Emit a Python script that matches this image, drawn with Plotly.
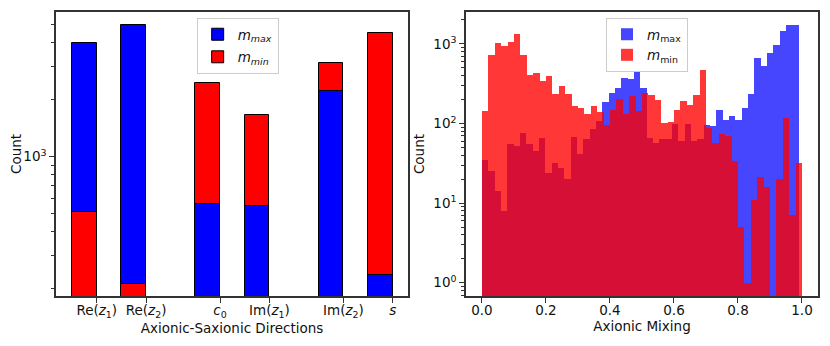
import numpy as np
import plotly.graph_objects as go

# left panel: counts per axionic/saxionic direction
directions = ["Re(<i>z</i><sub>1</sub>)", "Re(<i>z</i><sub>2</sub>)", "<i>c</i><sub>0</sub>",
              "Im(<i>z</i><sub>1</sub>)", "Im(<i>z</i><sub>2</sub>)", "<i>s</i>"]
direction_pos = [0, 1, 2.5, 3.5, 5, 6]
dir_max = [3980, 4980, 565, 550, 2230, 236]
dir_min = [510, 213, 2460, 1660, 3140, 4530]

# right panel: histogram counts of the axionic mixing (50 bins each)
mix_max_range = (0.0, 0.99)
mix_min_range = (0.0, 1.0)
mix_max = [35, 25, 14, 8, 55, 52, 75, 55, 45, 65,
           24, 32, 28, 20, 67, 41, 63, 86, 107, 185,
           244, 280, 375, 366, 447, 283, 66, 57, 63, 63,
           100, 60, 100, 60, 63, 95, 93, 146, 112, 126,
           110, 157, 237, 666, 524, 770, 980, 1440, 1750, 1750]
mix_min = [143, 720, 1030, 934, 1060, 1336, 720, 408, 436, 345,
           400, 238, 294, 236, 168, 157, 130, 165, 140, 97,
           146, 201, 133, 222, 144, 244, 230, 200, 102, 104,
           146, 190, 169, 228, 465, 88, 57, 73, 70, 34,
           5, 1, 11, 21, 16, 0, 20, 118, 7, 32]

BLUE = "blue"
RED = "red"
FONT = dict(family="DejaVu Sans", size=13.5, color="#111")

fig = go.Figure()

# larger bar of each pair drawn first, smaller one on top
def pick(vals, other, larger):
    out = []
    for v, o in zip(vals, other):
        keep = (v >= o) if larger else (v < o)
        out.append(v if keep else None)
    return out

bar_style = dict(width=0.5, offset=-0.5, marker_line=dict(color="black", width=1),
                 xaxis="x", yaxis="y", legend="legend")
fig.add_trace(go.Bar(x=direction_pos, y=pick(dir_max, dir_min, True), marker_color=BLUE,
                     name="<i>m</i><sub><i>max</i></sub>", legendgroup="a", **bar_style))
fig.add_trace(go.Bar(x=direction_pos, y=pick(dir_min, dir_max, True), marker_color=RED,
                     name="<i>m</i><sub><i>min</i></sub>", legendgroup="b", **bar_style))
fig.add_trace(go.Bar(x=direction_pos, y=pick(dir_max, dir_min, False), marker_color=BLUE,
                     showlegend=False, legendgroup="a", **bar_style))
fig.add_trace(go.Bar(x=direction_pos, y=pick(dir_min, dir_max, False), marker_color=RED,
                     showlegend=False, legendgroup="b", **bar_style))

# histograms
def centers(rng, n):
    edges = np.linspace(rng[0], rng[1], n + 1)
    return (edges[:-1] + edges[1:]) / 2, edges[1] - edges[0]

cx, wx = centers(mix_max_range, len(mix_max))
cn, wn = centers(mix_min_range, len(mix_min))
fig.add_trace(go.Bar(x=cx, y=mix_max, width=wx, marker_color=BLUE, opacity=0.72,
                     marker_line_width=0, name="<i>m</i><sub>max</sub>",
                     xaxis="x2", yaxis="y2", legend="legend2"))
fig.add_trace(go.Bar(x=cn, y=mix_min, width=wn, marker_color=RED, opacity=0.78,
                     marker_line_width=0, name="<i>m</i><sub>min</sub>",
                     xaxis="x2", yaxis="y2", legend="legend2"))

axis_common = dict(showline=True, mirror=True, linecolor="#333", linewidth=1.5,
                   ticks="outside", ticklen=5, tickwidth=1.2, tickcolor="#333",
                   showgrid=False, zeroline=False, tickfont=FONT, title_font=FONT,
                   automargin=False)

left_minor = [200, 300, 400, 500, 600, 700, 800, 900, 2000, 3000, 4000, 5000]
right_minor = [v * 10 ** k for k in range(-1, 4) for v in range(2, 10)
               if 0.68 < v * 10 ** k < 2500]

# the page body adds an 8px margin, so the figure is sized to fit inside it
fig.update_layout(
    width=814, height=330,
    margin=dict(l=48, r=4, t=4, b=42),
    paper_bgcolor="white", plot_bgcolor="white",
    barmode="overlay", bargap=0,
    font=FONT,
    xaxis=dict(domain=[0, 0.462], range=[-0.826, 6.31], tickvals=direction_pos,
               ticktext=directions, ticklabelstandoff=-4,
               title=dict(text="Axionic-Saxionic Directions", standoff=0),
               **axis_common),
    yaxis=dict(type="log", range=[np.log10(183), np.log10(5834)], tickvals=[1000],
               ticktext=["10<sup>3</sup>"], title=dict(text="Count", standoff=6),
               minor=dict(tickvals=left_minor, ticks="outside", ticklen=3, tickcolor="#333"),
               **axis_common),
    xaxis2=dict(domain=[0.538, 1], range=[-0.05, 1.05], tickvals=[0, 0.2, 0.4, 0.6, 0.8, 1.0],
                tickformat=".1f", anchor="y2", ticklabelstandoff=-4,
                title=dict(text="Axionic Mixing", standoff=0),
                **axis_common),
    yaxis2=dict(type="log", range=[np.log10(0.68), np.log10(2520)], anchor="x2",
                tickvals=[1, 10, 100, 1000],
                ticktext=["10<sup>0</sup>", "10<sup>1</sup>", "10<sup>2</sup>", "10<sup>3</sup>"],
                title=dict(text="Count", standoff=6),
                minor=dict(tickvals=right_minor, ticks="outside", ticklen=3, tickcolor="#333"),
                **axis_common),
    legend=dict(x=0.1846, y=0.979, xanchor="left", yanchor="top", bgcolor="white",
                bordercolor="#ccc", borderwidth=1, font=FONT, tracegroupgap=2),
    legend2=dict(x=0.7218, y=0.979, xanchor="left", yanchor="top", bgcolor="white",
                 bordercolor="#ccc", borderwidth=1, font=FONT),
)

fig.write_html("out.html")
